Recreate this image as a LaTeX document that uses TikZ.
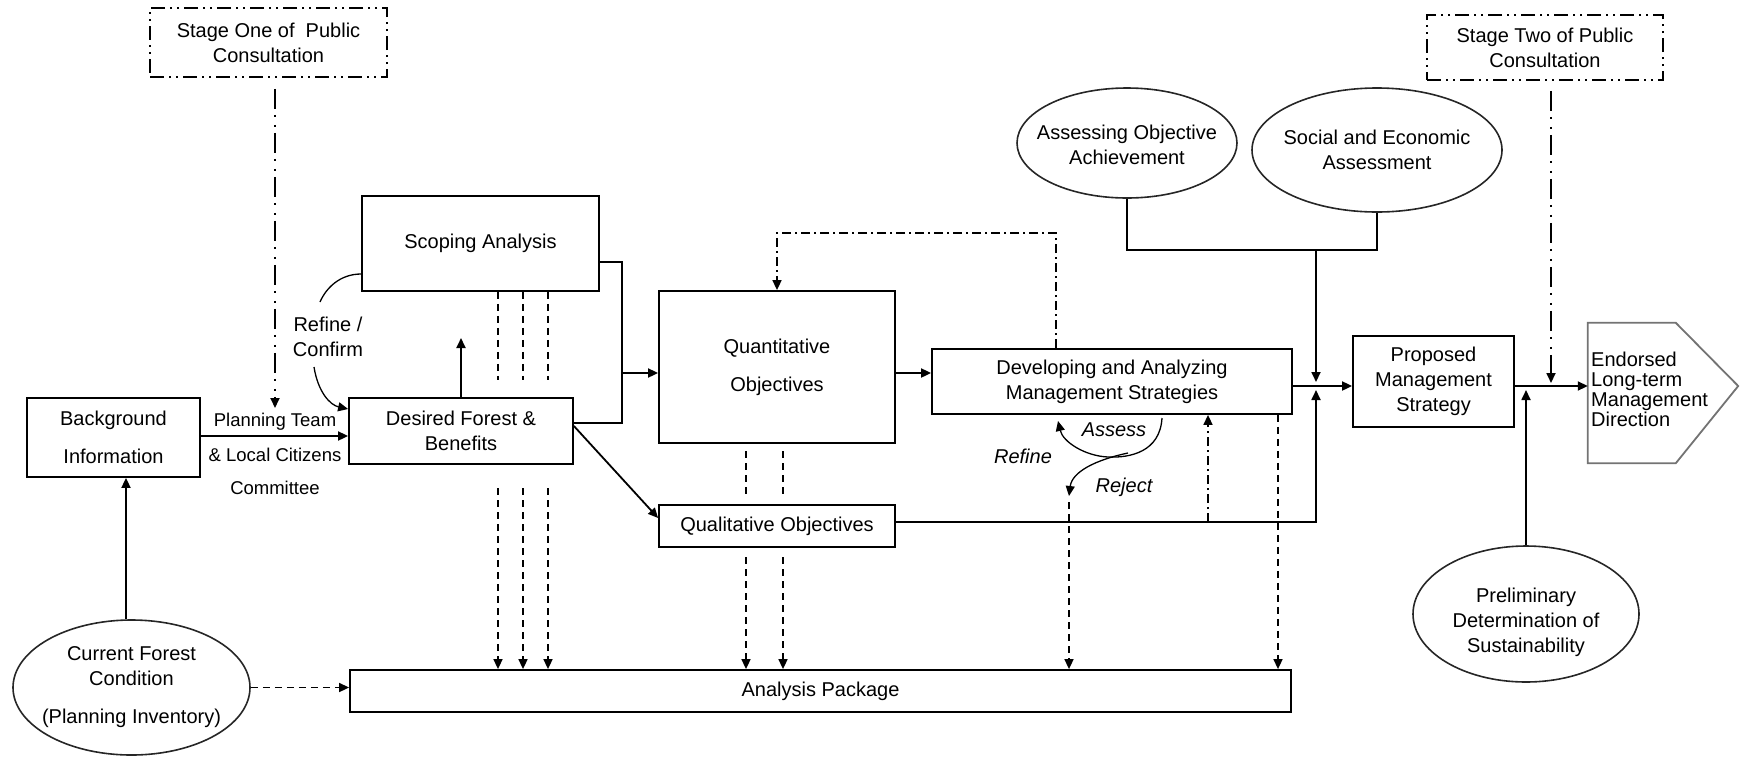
\documentclass[tikz,border=0pt]{standalone}
\usepackage{fontspec}
\setmainfont{Liberation Sans}
\usetikzlibrary{arrows.meta,shapes.geometric,calc}

\newcommand{\dgfont}{\fontsize{20pt}{25pt}\selectfont}
\newcommand{\lblfont}{\fontsize{18.5pt}{24pt}\selectfont}

\begin{document}
\begin{tikzpicture}[x=1pt,y=-1pt,
  box/.style={draw, line width=1.8pt, align=center, font=\dgfont, inner sep=0pt},
  oval/.style={draw=black!85, line width=1.6pt, ellipse, inner sep=0pt},
  ovaltext/.style={align=center, font=\dgfont, inner sep=0pt},
  consult/.style={draw, line width=1.8pt, align=center, font=\dgfont, inner sep=0pt,
    dash pattern=on 14pt off 5pt on 2pt off 5pt on 2pt off 5pt},
  link/.style={line width=1.8pt},
  thinlink/.style={line width=1.3pt},
  tip/.style={-{Triangle[length=10pt,width=9pt]}},
  dashlink/.style={line width=1.6pt, dash pattern=on 7pt off 5pt},
  dotdash/.style={line width=1.6pt, dash pattern=on 9pt off 4pt on 2pt off 4pt},
  dashdotdot/.style={line width=1.8pt, dash pattern=on 20pt off 6pt on 2pt off 8pt on 2pt off 6pt},
  lbl/.style={font=\lblfont, align=center, inner sep=0pt},
  ilbl/.style={font=\dgfont\itshape, inner sep=0pt}
]
\useasboundingbox (0,0) rectangle (1745,756);

% ---------- boxes ----------
\node[consult, minimum width=237pt, minimum height=69pt] (stage1) at (268.5,42.5) {Stage One of\ \ Public\\Consultation};
\node[box, minimum width=173pt, minimum height=79pt] (bg) at (113.5,437.5) {Background\\[13pt]Information};
\node[box, minimum width=224pt, minimum height=66pt] (desired) at (461,431) {Desired Forest \&\\Benefits};
\node[box, minimum width=237pt, minimum height=95pt] (scoping) at (480.5,243.5) {Scoping Analysis};
\node[box, minimum width=236pt, minimum height=152pt] (quant) at (777,367) {Quantitative\\[13pt]Objectives};
\node[box, minimum width=236pt, minimum height=42pt] (qual) at (777,526) {Qualitative Objectives};
\node[box, minimum width=360pt, minimum height=65pt] (dev) at (1112,381.5) {Developing and Analyzing\\Management Strategies};
\node[box, minimum width=941pt, minimum height=42pt] (pkg) at (820.5,691) {Analysis Package};
\node[box, minimum width=161pt, minimum height=91pt] (proposed) at (1433.5,381.5) {Proposed\\Management\\Strategy};
\node[consult, minimum width=236pt, minimum height=65pt] (stage2) at (1545,47.5) {Stage Two of Public\\Consultation};

% ---------- ellipses (outline fixed in size, text set on top) ----------
\node[oval, minimum width=237pt, minimum height=135pt,
  label={[ovaltext]center:Current Forest\\Condition\\[13pt](Planning Inventory)}] (current) at (131.5,687.5) {};
\node[oval, minimum width=220pt, minimum height=110pt,
  label={[ovaltext, yshift=-2pt]center:Assessing Objective\\Achievement}] (assess) at (1127,143) {};
\node[oval, minimum width=250pt, minimum height=124pt,
  label={[ovaltext]center:Social and Economic\\Assessment}] (social) at (1377,150) {};
\node[oval, minimum width=226pt, minimum height=136pt,
  label={[ovaltext, yshift=-8pt]center:Preliminary\\Determination of\\Sustainability}] (prelim) at (1526,614) {};

% ---------- endorsed direction (pentagon) ----------
\coordinate (mainY) at (0,386);
\node[inner sep=0pt, minimum width=150pt, minimum height=140pt] (endorsed) at (1663,393) {};
\draw[draw=black!55, line width=1.8pt] (endorsed.north west) -- ($(endorsed.north west)+(88,0)$)
  -- (endorsed.east |- mainY) -- ($(endorsed.south west)+(88,0)$) -- (endorsed.south west) -- cycle;
\node[anchor=west, align=left, inner sep=0pt, font=\fontsize{20pt}{20pt}\selectfont] (endtext) at (1591,389.5)
  {Endorsed\\Long-term\\Management\\Direction};

% ---------- left part ----------
\coordinate (s1tip) at (275,408);
\draw[dashdotdot, tip] ($(stage1.south -| s1tip)+(0,11)$) -- (s1tip);

\coordinate (yA) at (0,436);
\draw[link, tip] (bg.east |- yA) -- (desired.west |- yA);
\node[lbl] (lblA) at (275,422) {Planning Team};
\node[lbl] (lblB) at (275,455) {\& Local Citizens};
\node[lbl] (lblC) at (275,488) {Committee};

\coordinate (cx) at (126,0);
\draw[link, tip] (current.north -| cx) -- (bg.south -| cx);
\draw[dashlink, tip] (current.east) -- (current.east -| pkg.west);

% refine / confirm loop between scoping and desired forest
\coordinate (rcA) at (0,274);
\coordinate (rcB) at (0,409);
\draw[thinlink] (scoping.west |- rcA) .. controls (340,274) and (326,288) .. (320,302);
\draw[thinlink, tip] (314,367) .. controls (318,392) and (330,405) .. (desired.west |- rcB);
\node[lbl, font=\dgfont] (rclbl) at (328,337) {Refine /\\Confirm};

\coordinate (upTip) at (461,338);
\draw[link, tip] (desired.north) -- (upTip);

% scoping results to the analysis package (passing behind desired forest)
\foreach \x in {498,523,548} {
  \coordinate (sa) at (\x,380);
  \coordinate (sb) at (\x,488);
  \draw[dashlink] (scoping.south -| sa) -- (sa);
  \draw[dashlink, tip] (sb) -- (pkg.north -| sb);
}

% scoping and desired forest feed quantitative objectives
\coordinate (jq) at (622,373);
\coordinate (sA) at (0,262);
\coordinate (dA) at (0,423);
\draw[link] (scoping.east |- sA) -| (jq |- dA) -- (desired.east |- dA);
\draw[link, tip] (jq) -- (jq -| quant.west);

\coordinate (dB) at (0,426);
\coordinate (qB) at (0,518);
\draw[link, tip] (desired.east |- dB) -- (qual.west |- qB);

% ---------- centre ----------
\coordinate (yQ) at (0,373);
\draw[link, tip] (quant.east |- yQ) -- (dev.west |- yQ);

\coordinate (fbTop) at (1056,233);
\draw[dotdash, tip] (dev.north -| fbTop) -- (fbTop) -| (quant.north);

\foreach \x in {746,783} {
  \coordinate (qa) at (\x,451);
  \coordinate (qb) at (\x,495);
  \coordinate (qc) at (\x,557);
  \draw[dashlink] (qa) -- (qb);
  \draw[dashlink, tip] (qc) -- (pkg.north -| qc);
}

% qualitative objectives join the main line
\coordinate (jx) at (1316,522);
\coordinate (qy) at (0,522);
\draw[link, tip] (qual.east |- qy) -- (jx) -- ($(jx |- mainY)+(0,4)$);

% assessments join the main line
\coordinate (jm) at (1316,250);
\draw[link] (assess.south) -- (assess.south |- jm) -- (social.south |- jm) -- (social.south);
\draw[link, tip] (jm) -- ($(jm |- mainY)+(0,-4)$);

\coordinate (dd) at (1208,522);
\draw[dotdash, tip] (dd) -- (dev.south -| dd);
\coordinate (dr) at (1278,414);
\draw[dashlink, tip] (dev.south -| dr) -- (pkg.north -| dr);

% assess / refine / reject cycle
\draw[thinlink, tip] (1162,418) .. controls (1160,452) and (1130,458) .. (1108,457)
  .. controls (1085,456) and (1063,442) .. (1058,421);
\draw[thinlink, tip] (1128,453) .. controls (1095,460) and (1072,472) .. (1069,496);
\coordinate (rj) at (1069,502);
\draw[dashlink, tip] (rj) -- (pkg.north -| rj);
\node[ilbl] (lAssess) at (1114,430) {Assess};
\node[ilbl] (lRefine) at (1023,456) {Refine};
\node[ilbl] (lReject) at (1124,487) {Reject};

% ---------- right part ----------
\draw[link, tip] (dev.east |- mainY) -- (proposed.west |- mainY);
\draw[link, tip] (proposed.east |- mainY) -- (endorsed.west |- mainY);

\coordinate (s2x) at (1551,0);
\draw[dashdotdot, tip] ($(stage2.south -| s2x)+(0,10)$) -- ($(s2x |- mainY)+(0,-3)$);

\draw[link, tip] (prelim.north) -- ($(prelim.north |- mainY)+(0,4)$);
\end{tikzpicture}
\end{document}
